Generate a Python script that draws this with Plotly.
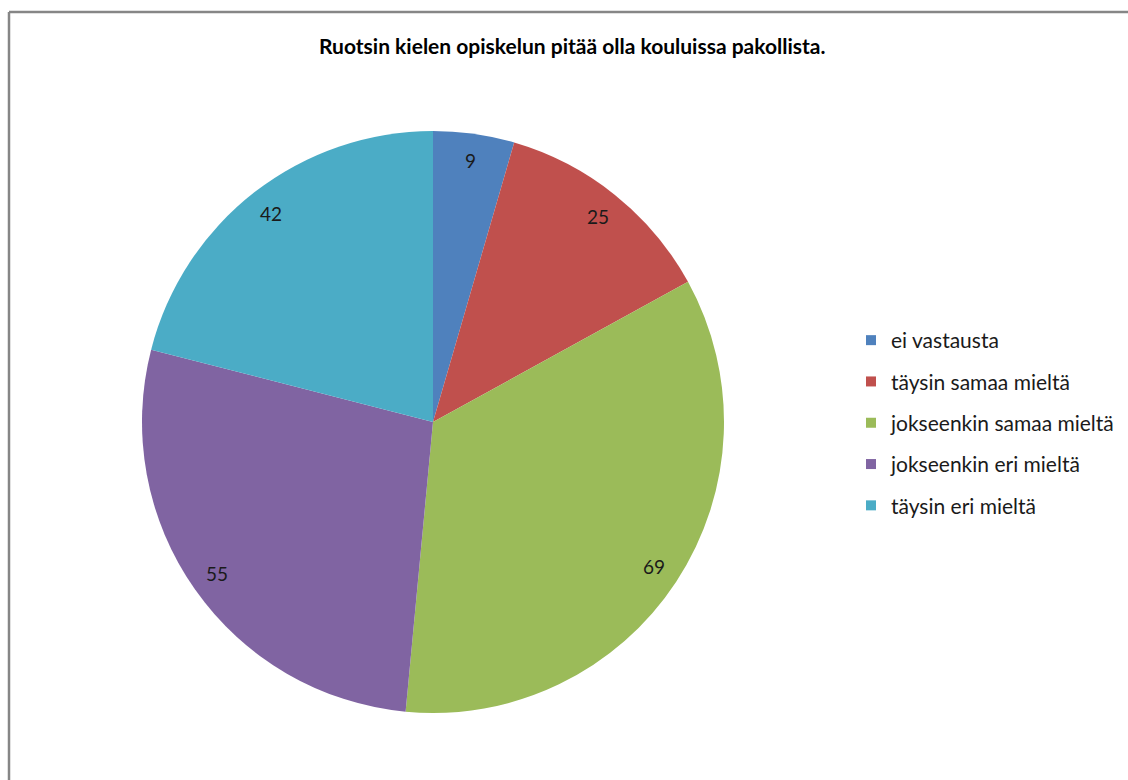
import math
import plotly.graph_objects as go

title = "Ruotsin kielen opiskelun pitää olla kouluissa pakollista."
labels = ["ei vastausta", "täysin samaa mieltä", "jokseenkin samaa mieltä",
          "jokseenkin eri mieltä", "täysin eri mieltä"]
values = [9, 25, 69, 55, 42]
colors = ["#4F81BD", "#C0504D", "#9BBB59", "#8064A2", "#4BACC6"]

W, H = 1128, 780
cx, cy, R = 433, 422, 291
FONT = "Lato, 'Open Sans', sans-serif"

fig = go.Figure()
fig.add_trace(go.Pie(
    labels=labels, values=values, sort=False, direction="clockwise",
    rotation=0, marker=dict(colors=colors, line=dict(width=0)),
    textinfo="none", hoverinfo="label+value", showlegend=False,
    domain=dict(x=[(cx - R) / W, (cx + R) / W],
                y=[1 - (cy + R) / H, 1 - (cy - R) / H]),
))

# legend entries (one per label, so the groups can be spaced)
for i, (lab, col) in enumerate(zip(labels, colors)):
    fig.add_trace(go.Scatter(
        x=[None], y=[None], mode="markers", name=lab, legendgroup=f"g{i}",
        marker=dict(symbol="square", size=10, color=col), showlegend=True,
    ))

# data labels near the outer edge of each slice
total = sum(values)
annotations = []
cum = 0
for v in values:
    mid = (cum + v / 2) / total * 2 * math.pi
    cum += v
    px = cx + 0.907 * R * math.sin(mid)
    py = cy - 0.907 * R * math.cos(mid)
    annotations.append(dict(
        x=px / W, y=1 - py / H, xref="paper", yref="paper", text=str(v),
        showarrow=False, font=dict(size=19, color="#1a1a1a", family=FONT),
        xanchor="center", yanchor="middle",
    ))

annotations.append(dict(
    x=572 / W, y=1 - 45 / H, xref="paper", yref="paper",
    text=f"<b>{title}</b>", showarrow=False,
    font=dict(size=21, color="#000000", family=FONT),
    xanchor="center", yanchor="middle",
))

bx0, by0 = 9 / W, 1 - 12 / H
fig.update_layout(
    width=W, height=H, margin=dict(l=0, r=0, t=0, b=0),
    paper_bgcolor="white", plot_bgcolor="white",
    xaxis=dict(visible=False), yaxis=dict(visible=False),
    annotations=annotations,
    legend=dict(x=851 / W, y=1 - 423 / H, xanchor="left", yanchor="middle",
                font=dict(size=21, color="#1a1a1a", family=FONT),
                tracegroupgap=11, itemwidth=30, bgcolor="rgba(0,0,0,0)"),
    shapes=[
        dict(type="line", xref="paper", yref="paper",
             x0=bx0, x1=bx0, y0=0, y1=by0,
             line=dict(color="#868686", width=2.5)),
        dict(type="line", xref="paper", yref="paper",
             x0=bx0, x1=1, y0=by0, y1=by0,
             line=dict(color="#868686", width=2.5)),
    ],
)

fig.write_html(
    "out.html", config={"displayModeBar": False},
    post_script=("document.documentElement.style.overflow='hidden';"
                 "document.body.style.margin='0';"
                 "document.body.style.overflow='hidden';"),
)
